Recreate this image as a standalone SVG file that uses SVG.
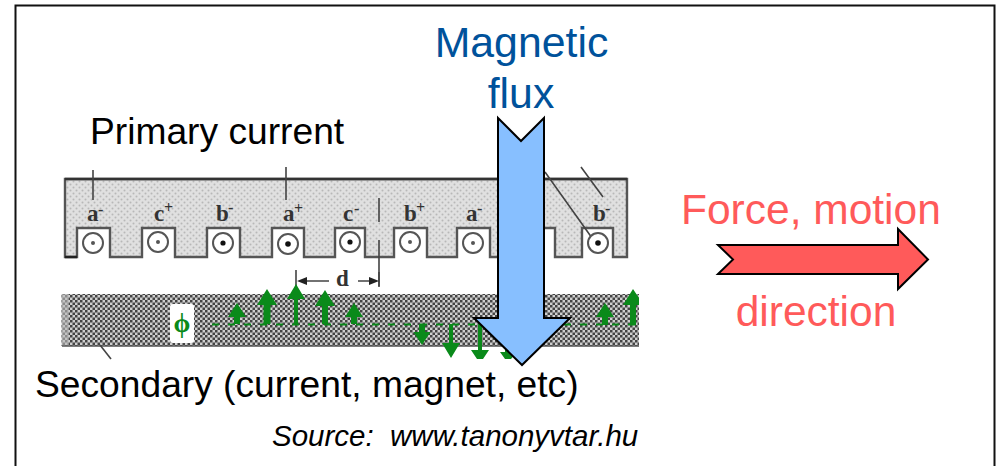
<svg xmlns="http://www.w3.org/2000/svg" width="998" height="466" viewBox="0 0 998 466">
<style>
.t{font-family:"Liberation Sans",Arial,sans-serif}
.s{font-family:"Liberation Serif","Times New Roman",serif;font-weight:bold;font-size:23px;fill:#333}
.u{font-family:"Liberation Serif","Times New Roman",serif;font-weight:bold;font-size:16px;fill:#333}
.ln{fill:none;stroke:#444;stroke-width:1.6}
.g{fill:#0a8a1a}
.gl{stroke:#0a8a1a;fill:none}
.c{fill:#fff;stroke:#555;stroke-width:2}
.d{fill:#222}
</style>
<defs>
<pattern id="lt" width="6" height="6" patternUnits="userSpaceOnUse"><rect width="6" height="6" fill="#e0e0e0"/><circle cx="1.5" cy="1.500" r="1" fill="#b8b8b8"/><circle cx="4.500" cy="4.500" r="1" fill="#b8b8b8"/></pattern>
<pattern id="dk" width="5" height="5" patternUnits="userSpaceOnUse"><rect width="5" height="5" fill="#d0d0d0"/><rect width="2.500" height="2.500" fill="#444"/><rect x="2.500" y="2.500" width="2.500" height="2.500" fill="#444"/></pattern>
</defs>
<rect id="frame" x="15.500" y="5.500" width="979" height="470" fill="#fff" stroke="#111" stroke-width="2"/>
<g id="primary">
<path d="M65 179H627V257H613V228H582V257H555V228H522V257H490V228H457V257H427V228H394V257H365V228H335V257H304V228H272V257H240V228H207V257H175V228H142V257H110V228H77V257H65Z" fill="url(#lt)" stroke="#555" stroke-width="2.400"/>
<path d="M65 179H627" stroke="#333" stroke-width="2.500"/>
<path d="M65 257H77" stroke="#222" stroke-width="2.500"/>
<path class="ln" d="M93 170V200M286 167V200M379 198V222M379 240V286M581 167L603 197M545 172L597 245"/>
<g id="slots">
<circle class="c" cx="93" cy="243" r="10"/><circle cx="93" cy="243" r="2" fill="#555"/>
<circle class="c" cx="158" cy="242" r="10"/><circle cx="158" cy="242" r="2" fill="#555"/>
<circle class="c" cx="223" cy="243" r="10"/><circle cx="223" cy="243" r="2.600" fill="#111"/>
<circle class="c" cx="288" cy="244" r="10"/><circle cx="288" cy="244" r="2.800" fill="#111"/>
<circle class="c" cx="350" cy="242" r="10"/><circle cx="350" cy="242" r="2.600" fill="#111"/>
<circle class="c" cx="410" cy="242" r="10"/><circle cx="410" cy="242" r="2" fill="#555"/>
<circle class="c" cx="473" cy="243" r="10"/><circle cx="473" cy="243" r="2" fill="#555"/>
<circle class="c" cx="598" cy="243" r="10"/><circle cx="598" cy="243" r="2.800" fill="#111"/>
</g>
<text class="s" x="87" y="221">a</text><text class="u" x="98" y="215">-</text>
<text class="s" x="154" y="221">c</text><text class="u" x="164" y="213">+</text>
<text class="s" x="216" y="221">b</text><text class="u" x="228" y="213">-</text>
<text class="s" x="283" y="221">a</text><text class="u" x="294" y="214">+</text>
<text class="s" x="343" y="221">c</text><text class="u" x="354" y="214">-</text>
<text class="s" x="404" y="221">b</text><text class="u" x="416" y="213">+</text>
<text class="s" x="466" y="221">a</text><text class="u" x="477" y="214">-</text>
<text class="s" x="593" y="221">b</text><text class="u" x="605" y="214">-</text>
</g>
<g id="pitch">
<text class="s" x="336" y="286">d</text>
<path class="ln" d="M296 270V290M329 281H302M358 281H374M379 272V287"/>
<path class="d" d="M297 281L307 277V285ZM379 281L369 277V285Z"/>
</g>
<g id="secondary">
<rect x="61.500" y="294" width="577.500" height="52" fill="url(#dk)"/>
<rect x="62" y="294" width="7" height="52" fill="#bbb" opacity=".6"/>
<path d="M62 346H639" stroke="#555" stroke-width="1.500"/>
<path d="M100 345L111 359" class="ln"/>
<rect x="170" y="304" width="24" height="39" rx="3" fill="#fff"/>
<text x="182" y="332" text-anchor="middle" font-family="Liberation Serif,serif" font-size="27" font-weight="bold" fill="#0a8a1a">ϕ</text>
<path class="gl" stroke-width="2" stroke-dasharray="7 9" d="M212 324.500H640"/>
</g>
<g id="flux-arrows">
<path class="g" d="M237 303L246 317H240V324H234V317H228Z"/>
<path class="g" d="M267 289L277 305H270.500V324H263.500V305H257Z"/>
<path class="g" d="M296 284L305 299H298V324H294V299H287Z"/>
<path class="g" d="M325 290L335 306H328V324H322V306H315Z"/>
<path class="g" d="M354 303L363 317H357V324H351V317H345Z"/>
<path class="g" d="M419 324H425V332H430.500L422 345L413.500 332H419Z"/>
<path class="g" d="M449 324H453V343H460L451 358L442 343H449Z"/>
<path class="g" d="M478 324H482V350H489L483 359H477L471 350H478Z"/>
<path class="g" d="M505 335H510V352H517L511 359H505L500 352H505Z"/>
<path class="g" d="M605 303L614 317H608V325H602V317H596Z"/>
<path class="g" d="M633 289L639 298V305H636V325H630V305H623Z"/>
</g>
<g id="flux-arrow">
<path d="M498 118L521 141L544 118V318H570L522 365L474 318H498Z" fill="#87bfff" stroke="#000" stroke-width="2"/>
</g>
<g id="force-arrow">
<path d="M718 245H898V229L928 259.500L898 289V274H718L733 259.500Z" fill="#ff5a5a" stroke="#000" stroke-width="2"/>
</g>
<g id="labels">
<text class="t" x="521.500" y="57" text-anchor="middle" font-size="42.800" fill="#00529b">Magnetic</text>
<text class="t" x="521" y="108" text-anchor="middle" font-size="42.800" fill="#00529b">flux</text>
<text class="t" x="90" y="144" font-size="37.200" fill="#000">Primary current</text>
<text class="t" x="681" y="224" font-size="42.500" fill="#ff5a5a">Force, motion</text>
<text class="t" x="816" y="326" text-anchor="middle" font-size="42.500" fill="#ff5a5a">direction</text>
<text class="t" x="35" y="397" font-size="37.200" fill="#000">Secondary (current, magnet, etc)</text>
<text class="t" x="272" y="446" font-size="29.500" font-style="italic" fill="#000" xml:space="preserve">Source:  www.tanonyvtar.hu</text>
</g>
</svg>
